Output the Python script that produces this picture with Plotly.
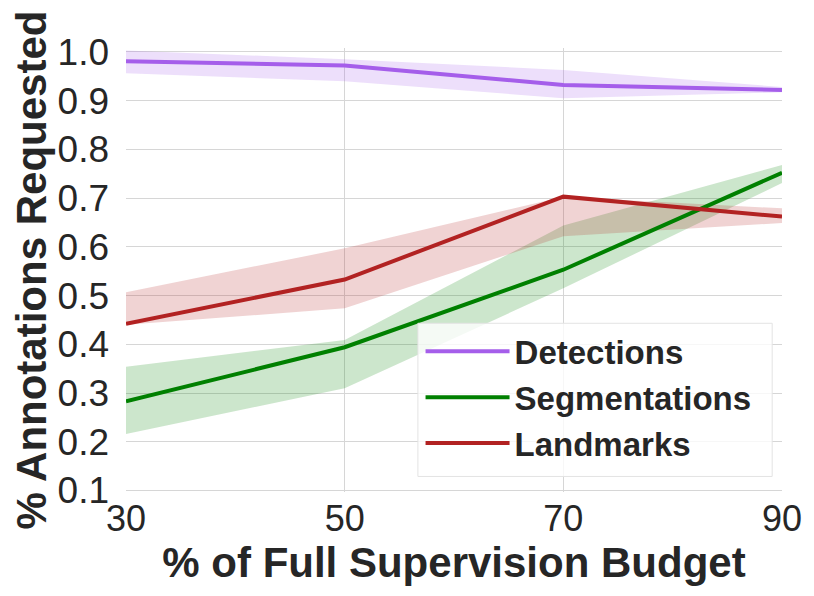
import plotly.graph_objects as go

budget = [30, 50, 70, 90]

det_mean = [0.981, 0.972, 0.932, 0.922]
det_upper = [1.003, 0.985, 0.963, 0.928]
det_lower = [0.956, 0.940, 0.905, 0.917]

seg_mean = [0.283, 0.394, 0.553, 0.752]
seg_upper = [0.354, 0.409, 0.644, 0.768]
seg_lower = [0.216, 0.310, 0.515, 0.731]

lmk_mean = [0.442, 0.533, 0.703, 0.662]
lmk_upper = [0.507, 0.597, 0.703, 0.679]
lmk_lower = [0.440, 0.474, 0.622, 0.649]

series = [
    ("Detections", det_mean, det_upper, det_lower, "#a55eea", "rgba(165,94,234,0.2)"),
    ("Segmentations", seg_mean, seg_upper, seg_lower, "#008000", "rgba(0,128,0,0.2)"),
    ("Landmarks", lmk_mean, lmk_upper, lmk_lower, "#b22222", "rgba(178,34,34,0.2)"),
]

fig = go.Figure()

# shaded bands first so the lines sit on top
for name, mean, upper, lower, color, fill in series:
    fig.add_trace(go.Scatter(x=budget, y=upper, mode="lines", line=dict(width=0),
                             showlegend=False, hoverinfo="skip"))
    fig.add_trace(go.Scatter(x=budget, y=lower, mode="lines", line=dict(width=0),
                             fill="tonexty", fillcolor=fill,
                             showlegend=False, hoverinfo="skip"))

for name, mean, upper, lower, color, fill in series:
    fig.add_trace(go.Scatter(x=budget, y=mean, mode="lines", name=name,
                             line=dict(color=color, width=4)))

font = "Liberation Sans, Arial, sans-serif"
ink = "#262626"

# legend frame drawn as a shape so it can be wider than plotly's own box
fig.add_shape(type="rect", xref="paper", yref="paper",
              x0=0.445, x1=0.985, y0=0.035, y1=0.38,
              fillcolor="rgba(255,255,255,0.8)",
              line=dict(color="#e3e3e3", width=1), layer="above")

# page has an 8px body margin, so the figure is a bit smaller than the window
fig.update_layout(
    width=806,
    height=588,
    margin=dict(l=118, r=32, t=40, b=104),
    paper_bgcolor="white",
    plot_bgcolor="white",
    font=dict(family=font, color=ink),
    legend=dict(
        x=0.449, y=0.38, xanchor="left", yanchor="top",
        traceorder="normal",
        bgcolor="rgba(0,0,0,0)",
        borderwidth=0,
        font=dict(family=font, size=33, color=ink, weight="bold"),
        itemwidth=84,
    ),
)

fig.update_xaxes(
    range=[30, 90],
    tickvals=budget,
    tickfont=dict(size=36, color=ink),
    showgrid=True, gridcolor="#d6d6d6", gridwidth=1,
    zeroline=False, showline=False,
    ticklabelstandoff=2,
    title=dict(text="% of Full Supervision Budget",
               font=dict(size=42, color=ink, weight="bold"), standoff=6),
)
fig.update_yaxes(
    range=[0.097, 1.008],
    tickvals=[0.1, 0.2, 0.3, 0.4, 0.5, 0.6, 0.7, 0.8, 0.9, 1.0],
    tickformat=".1f",
    tickfont=dict(size=37, color=ink),
    showgrid=True, gridcolor="#d6d6d6", gridwidth=1,
    zeroline=False, showline=False,
    ticklabelstandoff=16,
    title=dict(text="% Annotations Requested",
               font=dict(size=42, color=ink, weight="bold"), standoff=0),
)

fig.write_html("out.html")
